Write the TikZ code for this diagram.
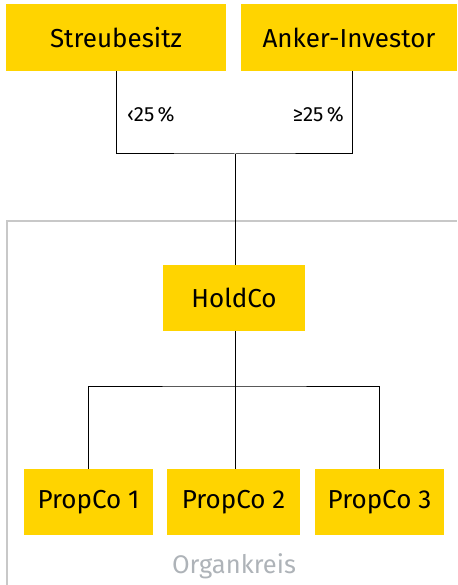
\documentclass[tikz,border=0pt]{standalone}
\usepackage{fontspec}
\setmainfont{Fira Sans}
\usetikzlibrary{calc}
\definecolor{eyyellow}{HTML}{FFD400}
\definecolor{framegray}{HTML}{C8C8C8}
\definecolor{labelgray}{HTML}{AEB3B8}
\tikzset{
  box/.style={fill=eyyellow, inner sep=0pt, font=\fontsize{26}{30}\selectfont, text=black},
  conn/.style={draw=black, line width=1pt},
  pct/.style={font=\fontsize{20.5}{24}\selectfont, inner sep=0pt}
}
\begin{document}
\begin{tikzpicture}[x=1pt,y=-1pt]
\useasboundingbox (0,0) rectangle (457,585);
\draw[framegray, line width=1.5pt] (7,585) -- (7,221) -- (457,221);
\node[box, minimum width=220pt, minimum height=67pt] (sb) at (116,37.5) {Streubesitz};
\node[box, minimum width=216pt, minimum height=67pt] (ai) at (349,37.5) {Anker-Investor};
\node[box, minimum width=142pt, minimum height=66pt] (hc) at (234,298) {HoldCo};
\node[box, minimum width=129pt, minimum height=66pt] (p1) at (88.5,502) {PropCo 1};
\node[box, minimum width=133pt, minimum height=66pt] (p2) at (233.5,502) {PropCo 2};
\node[box, minimum width=129pt, minimum height=66pt] (p3) at (379.5,502) {PropCo 3};
\coordinate (aib) at ($(ai.south)+(3,0)$);
\coordinate (top) at (235,154);
\coordinate (bot) at (235,386);
\draw[conn] (sb.south) |- (top) -| (aib);
\draw[conn] (top) -- (hc.north -| top);
\draw[conn] (hc.south -| bot) -- (p2.north -| bot);
\draw[conn] (p1.north) |- (bot) -| (p3.north);
\node[pct, anchor=west] (l1) at (127,115) {‹25\,\%};
\node[pct, anchor=east] (l2) at (344,115) {≥25\,\%};
\node[font=\fontsize{25.5}{30}\selectfont, text=labelgray] (ok) at (234,566) {Organkreis};
\end{tikzpicture}
\end{document}
